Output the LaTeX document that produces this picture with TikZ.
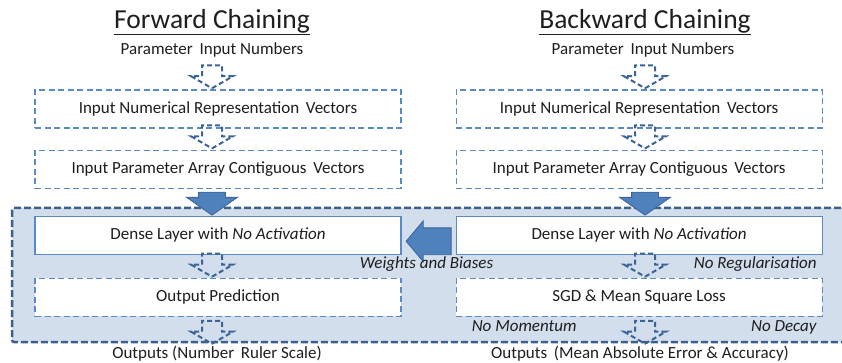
\documentclass[tikz,border=0pt]{standalone}
\usepackage{fontspec}
\setmainfont{Carlito}
\usepackage{xcolor}
\usepackage{tikz}
\usetikzlibrary{shapes.arrows,arrows.meta,positioning,calc}
\definecolor{boxblue}{HTML}{5B8BC6}
\definecolor{arrowblue}{HTML}{4F81BD}
\definecolor{arrowedge}{HTML}{3A6496}
\definecolor{regionfill}{HTML}{D3DEED}
\definecolor{regionedge}{HTML}{3D5F8C}
\definecolor{inktext}{HTML}{1E1E1E}
\tikzstyle{stepbox}=[
draw=boxblue,
line width=1.1pt,
dash pattern=on 6pt off 3.5pt,
fill=white,
minimum width=366pt,
minimum height=38pt,
text centered,
text=inktext,
font=\fontsize{17}{20}\selectfont
]
\tikzstyle{densebox}=[
stepbox,
solid,
line width=1.2pt
]
\tikzstyle{dasharrow}=[
single arrow,
shape border rotate=270,
draw=arrowedge,
line width=2pt,
dash pattern=on 5pt off 3pt,
inner xsep=9pt,
inner ysep=0pt,
minimum height=23pt,
single arrow head extend=11pt,
single arrow tip angle=120
]
\tikzstyle{fatarrow}=[
single arrow,
shape border rotate=270,
draw=arrowedge,
fill=arrowblue,
line width=0.8pt,
inner xsep=13pt,
inner ysep=0pt,
minimum height=23pt,
single arrow head extend=12pt,
single arrow tip angle=110
]
\tikzstyle{plain}=[
text=inktext,
font=\fontsize{17}{20}\selectfont
]
\tikzstyle{note}=[
text=inktext,
font=\fontsize{17}{20}\selectfont\itshape,
inner sep=1pt
]

\begin{document}
\begin{tikzpicture}[x=1pt,y=1pt,node distance=21pt]
\clip (0,0) rectangle (842,-363);

% shaded training area
\filldraw[fill=regionfill, draw=regionedge, line width=2.5pt,
  dash pattern=on 7pt off 3pt, rounded corners=2pt]
  (12,-208) rectangle (860,-342);

% forward chaining
\node (ftitle) [plain, font=\fontsize{27.5}{32}\selectfont] at (212,-22) {\underline{Forward Chaining}};
\node (fparam) [plain] at (212,-50) {Parameter\, Input Numbers};
\node (fbox1) [stepbox] at (218,-109) {Input Numerical Representation\, Vectors};
\node (fbox2) [stepbox, below=of fbox1] {Input Parameter Array Contiguous\, Vectors};
\node (fdense) [densebox, below=27pt of fbox2] {Dense Layer with \textit{No Activation}};
\node (fout) [stepbox, below=23pt of fdense] {Output Prediction};
\node (fres) [plain] at (217,-354) {Outputs (Number\, Ruler Scale)};

% backward chaining
\node (btitle) [plain, font=\fontsize{27.5}{32}\selectfont] at (645,-22) {\underline{Backward Chaining}};
\node (bparam) [plain] at (643,-50) {Parameter\, Input Numbers};
\node (bbox1) [stepbox, right=54pt of fbox1] {Input Numerical Representation\, Vectors};
\node (bbox2) [stepbox, below=of bbox1] {Input Parameter Array Contiguous\, Vectors};
\node (bdense) [densebox, below=27pt of bbox2] {Dense Layer with \textit{No Activation}};
\node (bsgd) [stepbox, below=23pt of bdense] {SGD \& Mean Square Loss};
\node (bres) [plain] at (640,-354) {Outputs\, (Mean Absolute Error \& Accuracy)};

% arrows
\node (fa1) [dasharrow, anchor=tip] at (fparam |- fbox1.north) {};
\node (fa2) [dasharrow, anchor=tip] at (fparam |- fbox2.north) {};
\node (fa3) [fatarrow, anchor=tip] at (fparam |- fdense.north) {};
\node (fa4) [dasharrow, anchor=tip] at (fparam |- fout.north) {};
\node (fa5) [dasharrow, anchor=tip] at ($(fparam |- fout.south)+(0,-28)$) {};

\node (ba1) [dasharrow, anchor=tip] at (btitle |- bbox1.north) {};
\node (ba2) [dasharrow, anchor=tip] at (btitle |- bbox2.north) {};
\node (ba3) [fatarrow, anchor=tip] at (btitle |- bdense.north) {};
\node (ba4) [dasharrow, anchor=tip] at (btitle |- bsgd.north) {};
\node (ba5) [dasharrow, anchor=tip] at ($(btitle |- bsgd.south)+(0,-28)$) {};

\node (wb) [fatarrow, shape border rotate=180, minimum height=45pt,
  inner xsep=0pt, inner ysep=13pt, single arrow head extend=7pt,
  single arrow tip angle=100, anchor=tip] at ($(fdense.east)+(4,-6)$) {};

% labels
\node (wlab) [note, anchor=north] at ($(fdense.south east)!0.5!(bdense.south west)+(-2,-1)$) {Weights and Biases};
\node (rlab) [note, anchor=north east] at ($(bdense.south east)+(-5,-1)$) {No Regularisation};
\node (mlab) [note, anchor=north west] at ($(bsgd.south west)+(15,-2)$) {No Momentum};
\node (dlab) [note, anchor=north east] at ($(bsgd.south east)+(-5,-2)$) {No Decay};

\end{tikzpicture}
\end{document}
